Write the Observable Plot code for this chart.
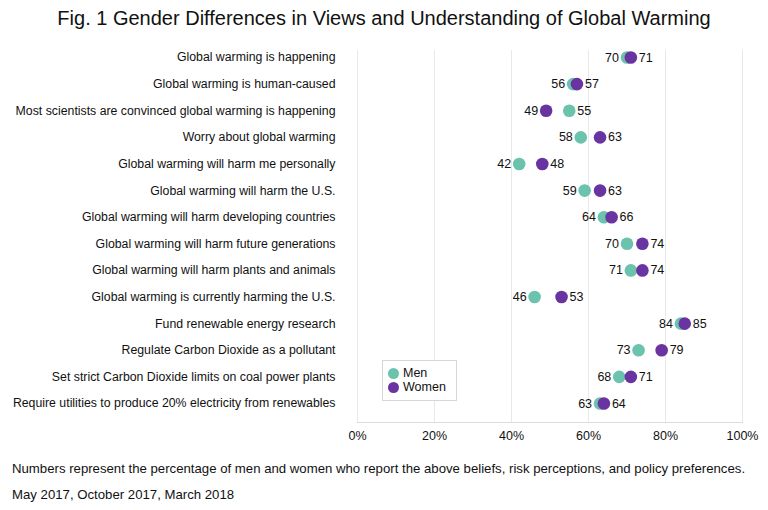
<!DOCTYPE html>
<html><head><meta charset="utf-8">
<script src="https://cdn.jsdelivr.net/npm/d3@7"></script>
<script src="https://cdn.jsdelivr.net/npm/@observablehq/plot@0.6"></script>
<style>
body{margin:0;background:#fff;font-family:"Liberation Sans",Arial,sans-serif;color:#111;}
#wrap{position:relative;width:768px;}
#title{height:36px;line-height:36px;text-align:center;font-size:20px;color:#111;white-space:nowrap;}
#chart svg{display:block;}
.cap{font-size:13.2px;line-height:26px;padding-left:12px;color:#111;white-space:nowrap;}
#legend{position:absolute;left:382px;top:360px;width:75px;height:41px;box-sizing:border-box;border:1.5px solid #d6d6d6;padding:5px 0 0 5px;font-size:12.5px;background:#fff;}
#legend .item{height:14px;line-height:14px;display:flex;align-items:center;}
#legend .sw{width:11px;height:11px;border-radius:50%;margin-right:4px;}
</style>
</head><body>
<div id="wrap">
<div id="title">Fig. 1 Gender Differences in Views and Understanding of Global Warming</div>
<div id="chart"></div>
<div id="legend"></div>
<div class="cap">Numbers represent the percentage of men and women who report the above beliefs, risk perceptions, and policy preferences.</div>
<div class="cap">May 2017, October 2017, March 2018</div>
</div>
<script>
const categories = [
  "Global warming is happening",
  "Global warming is human-caused",
  "Most scientists are convinced global warming is happening",
  "Worry about global warming",
  "Global warming will harm me personally",
  "Global warming will harm the U.S.",
  "Global warming will harm developing countries",
  "Global warming will harm future generations",
  "Global warming will harm plants and animals",
  "Global warming is currently harming the U.S.",
  "Fund renewable energy research",
  "Regulate Carbon Dioxide as a pollutant",
  "Set strict Carbon Dioxide limits on coal power plants",
  "Require utilities to produce 20% electricity from renewables"
];
const men   = [70, 56, 55, 58, 42, 59, 64, 70, 71, 46, 84, 73, 68, 63];
const women = [71, 57, 49, 63, 48, 63, 66, 74, 74, 53, 85, 79, 71, 64];
const series = ["Men", "Women"];
const colors = ["#6cc3ad", "#6934a2"];
const xTicks = [0, 20, 40, 60, 80, 100];

const data = categories.flatMap((c, i) => [
  {q: c, g: series[0], v: men[i]},
  {q: c, g: series[1], v: women[i]}
]);
const leftLabels = categories.map((c, i) => ({q: c, v: Math.min(men[i], women[i])}));
const rightLabels = categories.map((c, i) => ({q: c, v: Math.max(men[i], women[i])}));

const font = '"Liberation Sans", Arial, sans-serif';
const chart = Plot.plot({
  width: 768, height: 420,
  marginLeft: 357, marginRight: 26, marginTop: 14, marginBottom: 34,
  style: {fontFamily: font, fontSize: "12.3px", color: "#111", background: "transparent"},
  x: {domain: [0, 100], ticks: xTicks, tickFormat: d => d + "%", label: null},
  y: {type: "point", domain: categories, padding: 0, round: false, insetTop: 7, insetBottom: 19, label: null},
  color: {domain: series, range: colors},
  marks: [
    Plot.gridX(xTicks, {stroke: "#e8e8e8", strokeOpacity: 1}),
    Plot.frame({anchor: "bottom", stroke: "#dcdcdc"}),
    Plot.axisX({ticks: xTicks, tickSize: 0, tickPadding: 9, tickFormat: d => d + "%", label: null, fill: "#111", fontSize: 12.5}),
    Plot.axisY({tickSize: 0, tickPadding: 22, label: null, fill: "#111"}),
    Plot.dot(data, {x: "v", y: "q", fill: "g", r: 6.3}),
    Plot.text(leftLabels, {x: "v", y: "q", text: d => String(d.v), textAnchor: "end", dx: -8, fontSize: 12.5, fill: "#111"}),
    Plot.text(rightLabels, {x: "v", y: "q", text: d => String(d.v), textAnchor: "start", dx: 8, fontSize: 12.5, fill: "#111"})
  ]
});
document.getElementById("chart").appendChild(chart);

const legend = document.getElementById("legend");
series.forEach((s, i) => {
  const item = document.createElement("div");
  item.className = "item";
  const sw = document.createElement("span");
  sw.className = "sw";
  sw.style.background = colors[i];
  item.appendChild(sw);
  item.appendChild(document.createTextNode(s));
  legend.appendChild(item);
});
</script>
</body></html>
